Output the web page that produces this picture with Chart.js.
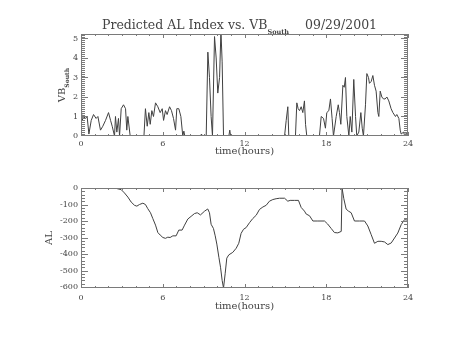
<!DOCTYPE html>
<html>
<head>
<meta charset="utf-8">
<script src="https://cdn.jsdelivr.net/npm/chart.js@4/dist/chart.umd.min.js"></script>
<style>
  html, body { margin: 0; padding: 0; background: #fff; }
  #wrap { position: relative; width: 454px; height: 341px; }
  canvas { position: absolute; left: 0; top: 0; }
</style>
</head>
<body>
<div id="wrap">
  <canvas id="vbChart" width="454" height="341"></canvas>
  <canvas id="alChart" width="454" height="341"></canvas>
</div>
<script>
// --- DATA ---
const hourTicks = [0, 6, 12, 18, 24];
const vbTicks = [0, 1, 2, 3, 4, 5];
const alTicks = [0, -100, -200, -300, -400, -500, -600];

const vbHours = [
  0.00, 0.09, 0.18, 0.33, 0.45, 0.58, 0.75, 0.92, 1.11, 1.24, 1.43, 1.60, 1.80, 2.02, 2.17, 2.29,
  2.46, 2.53, 2.63, 2.75, 2.83, 2.95, 3.12, 3.27, 3.36, 3.44, 3.61, 4.62,
  4.73, 4.86, 4.98, 5.08, 5.20, 5.32, 5.47, 5.64, 5.81, 5.96, 6.06, 6.20, 6.32, 6.50, 6.64, 6.79,
  6.94, 7.03, 7.18, 7.33, 7.47, 7.55, 7.62, 8.77, 8.84, 8.92, 9.19,
  9.31, 9.43, 9.55, 9.65, 9.80, 9.92, 10.04, 10.17, 10.27, 10.36, 10.46, 10.85, 10.92, 10.98, 14.94,
  15.06, 15.18, 15.25, 15.74, 15.84, 15.94, 16.04, 16.16, 16.28, 16.40, 16.48, 16.57, 17.50,
  17.63, 17.80, 17.94, 18.04, 18.19, 18.31, 18.43, 18.53, 18.73, 18.88, 18.97, 19.07, 19.22, 19.32,
  19.41, 19.51, 19.66, 19.76, 19.88, 20.02, 20.15, 20.24, 20.39, 20.54, 20.64, 20.73, 20.88, 20.98,
  21.10, 21.17, 21.30, 21.42, 21.54, 21.66, 21.79, 21.86, 21.96, 22.08, 22.20, 22.32, 22.45, 22.59,
  22.76, 22.89, 23.08, 23.18, 23.33, 23.43, 23.50, 23.67, 23.77, 23.87, 24.00
];
const vbValues = [
  1.6, 0.8, 1.0, 0.9, 1.0, 0.1, 0.8, 1.1, 0.9, 1.0, 0.3, 0.5, 0.8, 1.2, 0.8, 0.5,
  0.0, 1.0, 0.2, 0.9, 0.0, 1.4, 1.6, 1.4, 0.3, 1.0, 0.0, 0.0,
  1.4, 0.5, 1.2, 0.6, 1.3, 1.0, 1.7, 1.5, 1.2, 1.4, 0.8, 1.3, 1.1, 1.5, 1.3, 0.9,
  0.3, 1.4, 1.4, 1.0, 0.0, 0.25, 0.0, 0.0, 0.1, 0.0, 0.0,
  4.3, 3.0, 1.0, 0.0, 5.1, 4.0, 2.2, 3.0, 5.4, 3.8, 0.0, 0.0, 0.3, 0.0, 0.0,
  0.8, 1.5, 0.0, 0.0, 1.7, 1.4, 1.3, 1.5, 1.2, 1.8, 0.6, 0.0, 0.0,
  1.0, 0.9, 0.4, 1.2, 1.3, 1.9, 0.9, 0.0, 1.0, 1.6, 1.2, 0.6, 2.6, 2.5,
  3.0, 1.0, 0.0, 1.0, 0.2, 2.9, 1.0, 0.0, 0.2, 1.2, 0.4, 0.0, 1.6, 3.2,
  3.0, 2.7, 2.8, 3.1, 2.6, 2.3, 1.2, 1.0, 2.3, 2.0, 1.9, 1.9, 2.0, 1.8,
  1.4, 1.2, 1.0, 1.1, 0.9, 0.3, 0.1, 0.2, 0.0, 0.15, 0.1
];

const alHours = [
  0.00, 2.30, 2.46, 2.70, 2.95, 3.19, 3.44, 3.68, 3.93, 4.10, 4.29, 4.54, 4.73, 4.90, 5.10, 5.27,
  5.47, 5.64, 5.81, 6.01, 6.20, 6.37, 6.54, 6.74, 6.98, 7.18, 7.42, 7.60, 7.84, 8.08, 8.33, 8.53,
  8.77, 9.06, 9.30, 9.43, 9.55, 9.72, 9.85, 9.97, 10.12, 10.24, 10.36, 10.46, 10.58, 10.70, 10.85,
  11.14, 11.39, 11.58, 11.75, 11.93, 12.12, 12.37, 12.61, 12.86, 13.10, 13.35, 13.59, 13.83, 14.08,
  14.32, 14.57, 14.94, 15.18, 15.35, 15.67, 15.96, 16.16, 16.40, 16.53, 16.77, 17.02, 17.38, 17.87,
  18.10, 18.36, 18.60, 18.85, 19.10, 19.16, 19.29, 19.46, 19.63, 19.83, 20.07, 20.44, 20.81, 21.05,
  21.30, 21.54, 21.79, 22.03, 22.28, 22.52, 22.77, 23.01, 23.25, 23.50, 23.74, 24.00
];
const alValues = [
  0, 0, 0, -5, -10, -30, -55, -85, -105, -110, -100, -92, -100, -125, -150, -185,
  -225, -270, -285, -300, -305, -298, -300, -290, -290, -255, -255, -225, -188, -172, -155, -150,
  -163, -141, -127, -150, -220, -245, -290, -340, -420, -480, -560, -606, -520, -425, -405,
  -390, -365, -335, -275, -250, -240, -210, -185, -165, -130, -115, -105, -80, -70,
  -65, -62, -62, -80, -75, -75, -75, -118, -140, -158, -168, -200, -200, -200,
  -218, -245, -270, -272, -263, 0, -65, -128, -140, -150, -200, -200, -200, -230,
  -283, -335, -323, -323, -327, -343, -333, -303, -273, -222, -192, -195
];

// --- STYLE ---
const AXIS_COLOR = '#7a7a7a';
const LINE_COLOR = '#404040';
const TEXT_COLOR = '#444';
const SERIF = '"DejaVu Serif", serif';

// rotated text with an optional subscript, centred on (x, y)
function drawVertical(ctx, x, y, main, sub){
  ctx.save();
  ctx.translate(x, y);
  ctx.rotate(-Math.PI / 2);
  ctx.font = `10px ${SERIF}`;
  const w1 = ctx.measureText(main).width;
  ctx.font = `bold 6px ${SERIF}`;
  const w2 = sub ? ctx.measureText(sub).width : 0;
  const start = -(w1 + w2) / 2;
  ctx.textAlign = 'left';
  ctx.textBaseline = 'alphabetic';
  ctx.font = `10px ${SERIF}`;
  ctx.fillText(main, start, 0);
  if(sub){
    ctx.font = `bold 6px ${SERIF}`;
    ctx.fillText(sub, start + w1, 4);
  }
  ctx.restore();
}

// IDL-style box: frame, inward ticks on all four sides, labels and titles
const idlFrame = {
  id: 'idlFrame',
  afterDatasetsDraw(chart, args, o){
    const {ctx, chartArea: a, scales: {x, y}} = chart;
    ctx.save();
    ctx.strokeStyle = AXIS_COLOR;
    ctx.lineWidth = 1;
    ctx.strokeRect(a.left + 0.5, a.top + 0.5, a.right - a.left - 1, a.bottom - a.top - 1);

    ctx.beginPath();
    // x ticks, one per hour, longer on the major ones
    for(let h = 0; h <= 24; h++){
      const px = Math.round(x.getPixelForValue(h)) + 0.5;
      const len = hourTicks.includes(h) ? 4 : 2;
      ctx.moveTo(px, a.bottom); ctx.lineTo(px, a.bottom - len);
      ctx.moveTo(px, a.top); ctx.lineTo(px, a.top + len);
    }
    // y ticks
    const n = Math.round((o.yMax - o.yMin) / o.minorStep);
    for(let i = 0; i <= n; i++){
      const v = o.yMin + i * o.minorStep;
      const py = Math.round(y.getPixelForValue(v)) + 0.5;
      if(py < a.top || py > a.bottom) continue;
      const major = Math.abs(v / o.majorStep - Math.round(v / o.majorStep)) < 1e-6;
      const len = major ? 7 : 4;
      ctx.moveTo(a.left, py); ctx.lineTo(a.left + len, py);
      ctx.moveTo(a.right, py); ctx.lineTo(a.right - len, py);
    }
    ctx.stroke();

    ctx.fillStyle = TEXT_COLOR;
    ctx.font = `8px ${SERIF}`;
    ctx.textAlign = 'center';
    ctx.textBaseline = 'middle';
    hourTicks.forEach(h => ctx.fillText(String(h), x.getPixelForValue(h), a.bottom + o.labelGap));
    ctx.textAlign = 'right';
    o.yTicks.forEach(v => ctx.fillText(String(v), a.left - 3, y.getPixelForValue(v)));

    ctx.font = `10px ${SERIF}`;
    ctx.textAlign = 'center';
    ctx.fillText('time(hours)', (a.left + a.right) / 2, a.bottom + o.titleGap);

    drawVertical(ctx, o.yTitleX, (a.top + a.bottom) / 2, o.yTitle, o.yTitleSub);

    if(o.title){
      ctx.textAlign = 'left';
      ctx.textBaseline = 'alphabetic';
      ctx.font = `12.5px ${SERIF}`;
      let tx = 102;
      ctx.fillText(o.title, tx, 29);
      tx += ctx.measureText(o.title).width;
      ctx.font = `bold 6.5px ${SERIF}`;
      ctx.fillText(o.titleSub, tx, 34);
      ctx.font = `12.5px ${SERIF}`;
      ctx.fillText(o.date, 305, 29);
    }
    ctx.restore();
  }
};

function makeChart(id, hours, values, yMin, yMax, pad, frame){
  return new Chart(document.getElementById(id), {
    type: 'line',
    data: {
      datasets: [{
        data: hours.map((h, i) => ({x: h, y: values[i]})),
        borderColor: LINE_COLOR,
        borderWidth: 1,
        pointRadius: 0,
        tension: 0
      }]
    },
    options: {
      responsive: false,
      animation: false,
      layout: {padding: pad},
      plugins: {legend: {display: false}, tooltip: {enabled: false}, idlFrame: frame},
      scales: {
        x: {type: 'linear', min: 0, max: 24, display: false},
        y: {min: yMin, max: yMax, display: false}
      }
    },
    plugins: [idlFrame]
  });
}

makeChart('vbChart', vbHours, vbValues, 0, 5.23,
  {left: 81, right: 46, top: 34, bottom: 205},
  {yMin: 0, yMax: 5.2, minorStep: 0.1, majorStep: 1, yTicks: vbTicks,
   labelGap: 8, titleGap: 15, yTitleX: 65, yTitle: 'VB', yTitleSub: 'South',
   title: 'Predicted AL Index vs. VB', titleSub: 'South', date: '09/29/2001'});

makeChart('alChart', alHours, alValues, -606, 0,
  {left: 81, right: 46, top: 188, bottom: 53},
  {yMin: -600, yMax: 0, minorStep: 20, majorStep: 100, yTicks: alTicks,
   labelGap: 10, titleGap: 18, yTitleX: 52, yTitle: 'AL', yTitleSub: ''});
</script>
</body>
</html>
